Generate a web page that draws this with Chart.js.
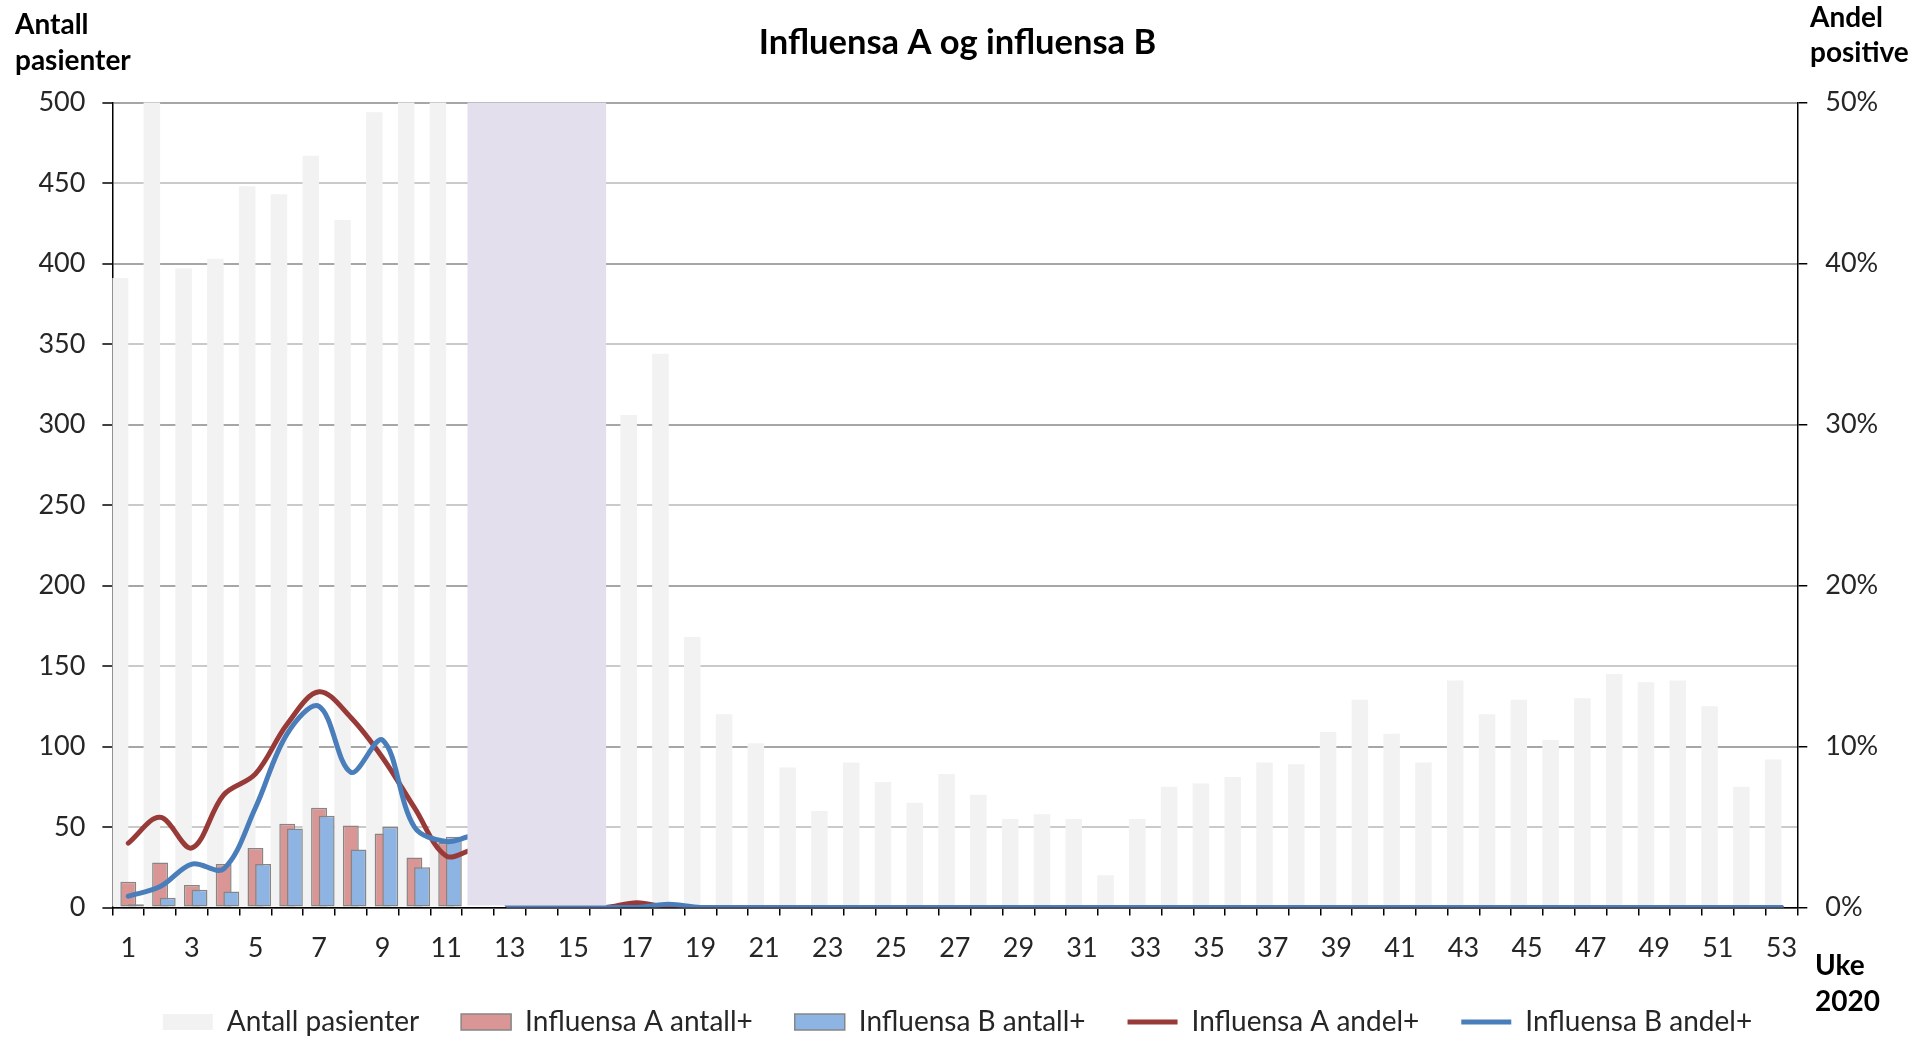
<!DOCTYPE html>
<html>
<head>
<meta charset="utf-8">
<title>Influensa A og influensa B</title>
<script src="https://cdn.jsdelivr.net/npm/chart.js@4.4.1/dist/chart.umd.min.js"></script>
<style>
  html, body { margin: 0; padding: 0; background: #fff; }
</style>
</head>
<body>
<canvas id="flu-chart" width="1915" height="1038"></canvas>
<script>
// uke 2020
const weeks = [1, 2, 3, 4, 5, 6, 7, 8, 9, 10, 11, 12, 13, 14, 15, 16, 17, 18, 19, 20,
  21, 22, 23, 24, 25, 26, 27, 28, 29, 30, 31, 32, 33, 34, 35, 36, 37, 38, 39, 40,
  41, 42, 43, 44, 45, 46, 47, 48, 49, 50, 51, 52, 53];

const patients = [391, 520, 397, 403, 448, 443, 467, 427, 494, 515, 530,
  null, null, null, null, null,
  306, 344, 168, 120, 102, 87, 60, 90, 78, 65, 83, 70, 55, 58, 55, 20, 55, 75, 77, 81,
  90, 89, 109, 129, 108, 90, 141, 120, 129, 104, 130, 145, 140, 141, 125, 75, 92];

const fluACount = [16, 28, 14, 27, 37, 52, 62, 51, 46, 31, 40,
  null, null, null, null, null,
  0, 0, 0, 0, 0, 0, 0, 0, 0, 0, 0, 0, 0, 0, 0, 0, 0, 0, 0, 0,
  0, 0, 0, 0, 0, 0, 0, 0, 0, 0, 0, 0, 0, 0, 0, 0, 0];

const fluBCount = [2, 6, 11, 10, 27, 49, 57, 36, 50, 25, 44,
  null, null, null, null, null,
  0, 0, 0, 0, 0, 0, 0, 0, 0, 0, 0, 0, 0, 0, 0, 0, 0, 0, 0, 0,
  0, 0, 0, 0, 0, 0, 0, 0, 0, 0, 0, 0, 0, 0, 0, 0, 0];

// andel positive i prosent
const fluAShare = [4.0, 5.6, 3.7, 7.0, 8.3, 11.4, 13.4, 11.8, 9.3, 6.2, 3.2, 3.5,
  0, 0, 0, 0, 0.3, 0, 0, 0, 0, 0, 0, 0, 0, 0, 0, 0, 0, 0, 0, 0, 0, 0, 0, 0,
  0, 0, 0, 0, 0, 0, 0, 0, 0, 0, 0, 0, 0, 0, 0, 0, 0];

const fluBShare = [0.7, 1.3, 2.7, 2.4, 6.2, 10.8, 12.5, 8.4, 10.4, 5.0, 4.1, 4.3,
  0, 0, 0, 0, 0, 0.2, 0, 0, 0, 0, 0, 0, 0, 0, 0, 0, 0, 0, 0, 0, 0, 0, 0, 0,
  0, 0, 0, 0, 0, 0, 0, 0, 0, 0, 0, 0, 0, 0, 0, 0, 0];

// uker uten overvaking (skravert felt)
const pauseWeeks = [12, 16];

const FONT = 'Lato';
const TEXT = '#262626';

// skravert felt over uke 12-16
const pausePlugin = {
  id: 'pause',
  afterDatasetsDraw(chart) {
    const { ctx, chartArea, scales } = chart;
    const left = scales.xa.getPixelForValue(pauseWeeks[0] - 0.33);
    const right = scales.xa.getPixelForValue(pauseWeeks[1] + 0.03);
    const bottom = scales.y.getPixelForValue(0) - 2;
    ctx.save();
    ctx.fillStyle = '#e4dfec';
    ctx.fillRect(left, chartArea.top, right - left, bottom - chartArea.top);
    ctx.restore();
  }
};

// aksetitler i hjornene
const cornerTitles = {
  id: 'cornerTitles',
  afterDraw(chart) {
    const ctx = chart.ctx;
    ctx.save();
    ctx.fillStyle = '#000';
    ctx.font = 'bold 28px ' + FONT;
    ctx.textAlign = 'left';
    ctx.textBaseline = 'alphabetic';
    ctx.fillText('Antall', 15, 34);
    ctx.fillText('pasienter', 15, 70);
    ctx.fillText('Andel', 1810, 27);
    ctx.fillText('positive', 1810, 62);
    ctx.fillText('Uke', 1815, 975);
    ctx.fillText('2020', 1815, 1011);
    ctx.restore();
  }
};

// skjulte x-akser som bare flytter stolpene litt til siden
function shiftAxis(min) {
  return {
    type: 'linear',
    position: 'bottom',
    offset: false,
    min: min,
    max: min + weeks.length,
    ticks: { display: false },
    grid: { display: false, offset: false },
    border: { display: false },
    afterBuildTicks: (scale) => { scale.ticks = [{ value: scale.min }, { value: scale.max }]; },
    afterFit: (scale) => { scale.height = 0; }
  };
}

const ctx = document.getElementById('flu-chart').getContext('2d');
window.fluChart = new Chart(ctx, {
  data: {
    labels: weeks,
    datasets: [
      {
        type: 'bar',
        label: 'Antall pasienter',
        data: patients,
        xAxisID: 'xg',
        yAxisID: 'y',
        grouped: false,
        backgroundColor: '#f2f2f2',
        borderWidth: 0,
        categoryPercentage: 1,
        barPercentage: 0.52,
        pointStyle: 'rect',
        order: 5
      },
      {
        type: 'bar',
        label: 'Influensa A antall+',
        data: fluACount,
        xAxisID: 'xa',
        yAxisID: 'y',
        grouped: false,
        backgroundColor: '#d99694',
        borderColor: '#868686',
        borderWidth: 1.5,
        borderSkipped: false,
        categoryPercentage: 1,
        barPercentage: 0.5,
        pointStyle: 'rect',
        order: 4
      },
      {
        type: 'bar',
        label: 'Influensa B antall+',
        data: fluBCount,
        xAxisID: 'xb',
        yAxisID: 'y',
        grouped: false,
        backgroundColor: '#8db4e2',
        borderColor: '#868686',
        borderWidth: 1.5,
        borderSkipped: false,
        categoryPercentage: 1,
        barPercentage: 0.5,
        pointStyle: 'rect',
        order: 3
      },
      {
        type: 'line',
        label: 'Influensa A andel+',
        data: fluAShare,
        xAxisID: 'x',
        yAxisID: 'y2',
        borderColor: '#983a38',
        backgroundColor: '#983a38',
        borderWidth: 5,
        tension: 0.35,
        pointRadius: 0,
        pointStyle: 'line',
        borderCapStyle: 'round',
        order: 2
      },
      {
        type: 'line',
        label: 'Influensa B andel+',
        data: fluBShare,
        xAxisID: 'x',
        yAxisID: 'y2',
        borderColor: '#4a7ebb',
        backgroundColor: '#4a7ebb',
        borderWidth: 5,
        tension: 0.35,
        pointRadius: 0,
        pointStyle: 'line',
        borderCapStyle: 'round',
        order: 1
      }
    ]
  },
  options: {
    responsive: false,
    animation: false,
    layout: { padding: { left: 0, right: 0, top: 0, bottom: -8 } },
    scales: {
      x: {
        type: 'category',
        position: 'bottom',
        offset: true,
        grid: {
          offset: true,
          drawOnChartArea: false,
          tickLength: 8,
          tickColor: '#000',
          lineWidth: 1.5
        },
        border: { color: '#000', width: 1.5 },
        ticks: {
          autoSkip: false,
          maxRotation: 0,
          padding: 17,
          color: TEXT,
          font: { family: FONT, size: 27 },
          callback: function (value, index) {
            const w = weeks[index];
            return w % 2 === 1 ? String(w) : '';
          }
        },
        afterFit: (scale) => { scale.height = 58.5; }
      },
      xa: shiftAxis(0.5),
      xg: shiftAxis(0.76),
      xb: shiftAxis(0.26),
      y: {
        position: 'left',
        min: 0,
        max: 500,
        ticks: {
          stepSize: 50,
          padding: 17,
          color: TEXT,
          font: { family: FONT, size: 27 }
        },
        grid: {
          color: (c) => (c.tick && c.tick.value % 100 === 0 ? '#a6a6a6' : '#cacaca'),
          lineWidth: 2,
          tickLength: 10,
          tickColor: '#000',
          tickWidth: 1.5
        },
        border: { color: '#000', width: 1.5 },
        afterFit: (scale) => { scale.width = 112.4; }
      },
      y2: {
        position: 'right',
        min: 0,
        max: 50,
        ticks: {
          stepSize: 10,
          padding: 18,
          color: TEXT,
          font: { family: FONT, size: 27 },
          callback: (v) => v + '%'
        },
        grid: {
          drawOnChartArea: false,
          tickLength: 10,
          tickColor: '#000',
          lineWidth: 1.5
        },
        border: { color: '#000', width: 1.5 },
        afterFit: (scale) => { scale.width = 117.7; }
      }
    },
    plugins: {
      title: {
        display: true,
        text: 'Influensa A og influensa B',
        color: '#000',
        font: { family: FONT, size: 34.5, weight: 'bold' },
        padding: { top: 22, bottom: 39.2 }
      },
      legend: {
        position: 'bottom',
        labels: {
          usePointStyle: true,
          pointStyleWidth: 50,
          boxHeight: 16,
          padding: 42,
          color: TEXT,
          font: { family: FONT, size: 28 },
          sort: (a, b) => a.datasetIndex - b.datasetIndex
        }
      },
      tooltip: { enabled: false }
    }
  },
  plugins: [pausePlugin, cornerTitles]
});
</script>
</body>
</html>
